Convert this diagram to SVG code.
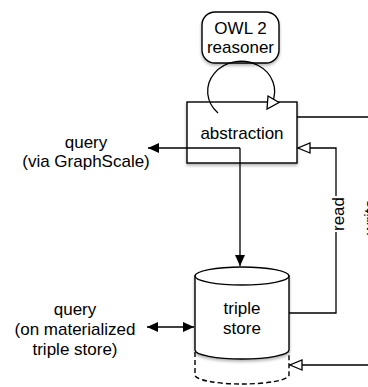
<svg xmlns="http://www.w3.org/2000/svg" width="368" height="387" viewBox="0 0 368 387">
<style>
text{font-family:"Liberation Sans",Arial,Helvetica,sans-serif;font-size:17px;fill:#000;text-anchor:middle}
.shape{fill:#fff;stroke:#000;stroke-width:1.4}
.line{fill:none;stroke:#000;stroke-width:1.3}
.dash{fill:none;stroke:#000;stroke-width:1.4;stroke-dasharray:5 3}
</style>
<defs>
<filter id="sh" x="-20%" y="-20%" width="140%" height="140%">
<feDropShadow dx="0" dy="2" stdDeviation="1.5" flood-color="#000" flood-opacity="0.3"/>
</filter>
<marker id="hollow" markerWidth="16" markerHeight="14" refX="13" refY="6" orient="auto" markerUnits="userSpaceOnUse">
<path d="M1,1 L13,6 L1,11 Z" fill="#fff" stroke="#000" stroke-width="1.3"/>
</marker>
<marker id="filled" markerWidth="14" markerHeight="12" refX="11" refY="5" orient="auto-start-reverse" markerUnits="userSpaceOnUse">
<path d="M0,0 L11,5 L0,10 Z" fill="#000"/>
</marker>
</defs>

<g id="reasoner">
<rect class="shape" x="202" y="12" width="77" height="51" rx="13" filter="url(#sh)"/>
<text x="240.5" y="34">OWL 2</text>
<text x="240.5" y="53">reasoner</text>
</g>

<g id="abstraction">
<rect class="shape" x="187" y="102" width="110" height="61" filter="url(#sh)"/>
<text x="242" y="139">abstraction</text>
</g>

<g id="triplestore">
<g filter="url(#sh)">
<path class="shape" d="M195,276 L195,350 A47,9 0 0 0 289,350 L289,276 Z"/>
<ellipse class="shape" cx="242" cy="276" rx="47" ry="9"/>
</g>
<path class="dash" d="M195,352 L195,375 A47,9 0 0 0 289,375 L289,352"/>
<text x="242" y="314">triple</text>
<text x="242" y="334">store</text>
</g>

<g id="query-graphscale">
<text x="86" y="148">query</text>
<text x="86" y="167">(via GraphScale)</text>
</g>

<g id="query-materialized">
<text x="75" y="315">query</text>
<text x="75" y="335">(on materialized</text>
<text x="75" y="355">triple store)</text>
</g>

<g id="connectors">
<path class="line" d="M218,113 A33.5,30 0 1 1 272,103"/>
<polygon points="268,96 279,102.5 267,109" fill="#fff" stroke="#000" stroke-width="1.3"/>
<path class="line" d="M240,148 L148,148" marker-end="url(#filled)"/>
<path class="line" d="M240,148 L240,266" marker-end="url(#filled)"/>
<path class="line" d="M147,327 L194,327" marker-start="url(#filled)" marker-end="url(#filled)"/>
<path class="line" d="M289,313 L336,313 L336,232"/>
<path class="line" d="M336,196 L336,148 L298,148" marker-end="url(#hollow)"/>
<text transform="translate(344,214) rotate(-90)">read</text>
<path class="line" d="M297,117 L384,117 L384,365 L290,365" marker-end="url(#hollow)"/>
<text transform="translate(376,217) rotate(-90)">write</text>
</g>
</svg>
